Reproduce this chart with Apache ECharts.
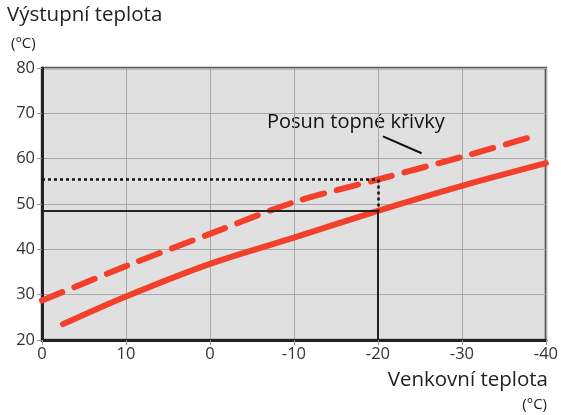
<!DOCTYPE html>
<html>
<head>
<meta charset="utf-8">
<style>
  html, body { margin: 0; padding: 0; background: #fff; }
  #chart { width: 561px; height: 415px; }
</style>
<script src="https://cdn.jsdelivr.net/npm/echarts@6/dist/echarts.min.js"></script>
</head>
<body>
<div id="chart"></div>
<script>
// Outdoor temperature ticks (axis runs from warm to cold) and their printed labels
const xTicks = [20, 10, 0, -10, -20, -30, -40];
const xTickText = ['0', '10', '0', '-10', '-20', '-30', '-40'];
const yTicks = [20, 30, 40, 50, 60, 70, 80];

// Heating curve (solid) and shifted heating curve (dashed): [outdoor, supply]
const curveBase = [[17.5, 23.5], [10, 29.6], [0, 36.8], [-10, 42.6], [-20, 48.5], [-30, 54.0], [-40, 59.0]];
const curveShifted = [[20, 28.7], [10, 36.3], [0, 43.4], [-10, 50.4], [-20, 55.4], [-30, 60.4], [-37.9, 64.6]];

// Reading at the design outdoor temperature
const designOutdoor = -20;
const supplyBase = 48.5;
const supplyShifted = 55.4;

// Leader line for the annotation text
const leader = [[-20.6, 64.9], [-25.2, 61.2]];
const annotation = 'Posun topné křivky';

const FONT = '"Open Sans", "Noto Sans", sans-serif';
const RED = '#f2402a';

const chart = echarts.init(document.getElementById('chart'), null, { renderer: 'canvas' });

chart.setOption({
  animation: false,
  textStyle: { fontFamily: FONT },
  grid: {
    left: 42, right: 15, top: 68, bottom: 75,
    show: true, backgroundColor: '#e0e0e0', borderColor: '#5a5a5a', borderWidth: 2.5
  },
  graphic: [
    { type: 'text', left: 7, top: 5, style: { text: 'Výstupní teplota', font: '20.5px ' + FONT, fill: '#222' } },
    { type: 'text', left: 11, top: 36, style: { text: '(°C)', font: '15px ' + FONT, fill: '#222' } },
    { type: 'text', right: 13, top: 370, style: { text: 'Venkovní teplota', font: '20.5px ' + FONT, fill: '#222' } },
    { type: 'text', right: 14, top: 397, style: { text: '(°C)', font: '15px ' + FONT, fill: '#222' } },
    { type: 'text', left: 267, top: 112, style: { text: annotation, font: '20px ' + FONT, fill: '#111' } }
  ],
  xAxis: {
    type: 'value', min: -40, max: 20, interval: 10, inverse: true,
    axisLine: { show: true, onZero: false, lineStyle: { color: '#222', width: 3 } },
    axisTick: { show: true, length: 5, lineStyle: { color: '#999', width: 1 } },
    axisLabel: {
      fontSize: 16.5, color: '#333', margin: 6, fontFamily: FONT,
      formatter: v => { const i = xTicks.indexOf(v); return i >= 0 ? xTickText[i] : ''; }
    },
    splitLine: { show: true, lineStyle: { color: '#a8a8a8', width: 1 } }
  },
  yAxis: {
    type: 'value', min: 20, max: 80, interval: 10,
    axisLine: { show: true, onZero: false, lineStyle: { color: '#222', width: 3 } },
    axisTick: { show: true, length: 5, lineStyle: { color: '#999', width: 1 } },
    axisLabel: {
      fontSize: 16.5, color: '#333', margin: 7, fontFamily: FONT,
      formatter: v => yTicks.includes(v) ? String(v) : ''
    },
    splitLine: { show: true, lineStyle: { color: '#a8a8a8', width: 1 } }
  },
  series: [
    {
      type: 'line', name: 'reading', silent: true, symbol: 'none',
      data: [],
      markLine: {
        silent: true, symbol: 'none', label: { show: false },
        lineStyle: { color: '#222', width: 2, type: 'solid' },
        data: [
          [{ coord: [20, supplyBase] }, { coord: [designOutdoor, supplyBase] }],
          [{ coord: [designOutdoor, supplyBase] }, { coord: [designOutdoor, 20] }],
          [{ coord: [20, supplyShifted], lineStyle: { type: [3, 3], width: 2.5, color: '#111' } },
           { coord: [designOutdoor, supplyShifted] }],
          [{ coord: [designOutdoor, supplyShifted], lineStyle: { type: [3, 3], width: 2.5, color: '#111' } },
           { coord: [designOutdoor, supplyBase] }],
          [{ coord: leader[0], lineStyle: { width: 2, color: '#111' } }, { coord: leader[1] }]
        ]
      }
    },
    {
      type: 'line', name: 'base', data: curveBase, symbol: 'none', smooth: 0.3,
      lineStyle: { color: RED, width: 6, cap: 'round' }, z: 3
    },
    {
      type: 'line', name: 'shifted', data: curveShifted, symbol: 'none', smooth: 0.3,
      lineStyle: { color: RED, width: 6, cap: 'round', type: [22, 13] }, z: 3
    }
  ]
});
</script>
</body>
</html>
